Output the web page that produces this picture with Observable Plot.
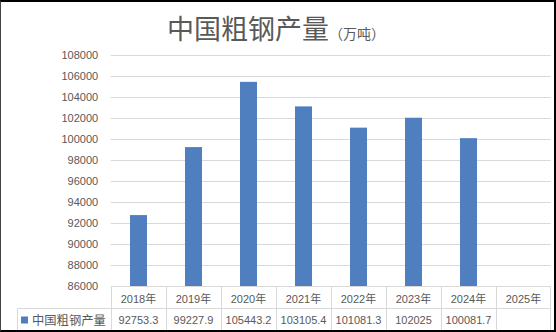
<!DOCTYPE html>
<html>
<head>
<meta charset="utf-8">
<script src="https://cdn.jsdelivr.net/npm/d3@7"></script>
<script src="https://cdn.jsdelivr.net/npm/@observablehq/plot@0.6"></script>
<style>
  html, body { margin: 0; padding: 0; background: #fff; }
  #wrap { position: relative; width: 556px; height: 332px; overflow: hidden; background: #fff; }
  #title { position: absolute; left: 0; top: 8px; width: 556px; text-align: center; color: #595959;
           font-family: "Noto Sans CJK SC", sans-serif; white-space: nowrap; padding-right: 4px; box-sizing: border-box; }
  #title .main { font-size: 27px; }
  #title .unit { font-size: 14px; }
  #chart { position: absolute; left: 0; top: 0; }
  #frame { position: absolute; left: 0; top: 0; width: 556px; height: 332px; box-sizing: border-box;
           border-top: 2px solid #000; border-left: 1px solid #444; border-right: 2px solid #000; border-bottom: 2px solid #000;
           pointer-events: none; }
</style>
</head>
<body>
<div id="wrap">
  <div id="chart"></div>
  <div id="title"><span class="main">中国粗钢产量</span><span class="unit">（万吨）</span></div>
  <div id="frame"></div>
</div>
<script>
const years = ["2018年", "2019年", "2020年", "2021年", "2022年", "2023年", "2024年", "2025年"];
const production = [92753.3, 99227.9, 105443.2, 103105.4, 101081.3, 102025, 100081.7, null];
const tableValues = ["92753.3", "99227.9", "105443.2", "103105.4", "101081.3", "102025", "100081.7", ""];
const yTicks = [86000, 88000, 90000, 92000, 94000, 96000, 98000, 100000, 102000, 104000, 106000, 108000];
const seriesName = "中国粗钢产量";

const barColor = "#4f7fbf";
const gridColor = "#d9d9d9";
const textColor = "#595959";
const font = "'Liberation Sans', 'Noto Sans CJK SC', sans-serif";

const data = years.map((year, i) => ({year, value: production[i]})).filter(d => d.value != null);

const chart = Plot.plot({
  width: 556,
  height: 332,
  marginTop: 55,
  marginBottom: 46,
  marginLeft: 110.7,
  marginRight: 5.3,
  style: {fontFamily: font, background: "transparent", color: textColor},
  x: {domain: years, paddingInner: 0.7, paddingOuter: 0.35, axis: null},
  y: {domain: [yTicks[0], yTicks[yTicks.length - 1]], axis: null},
  marks: [
    Plot.gridY(yTicks, {stroke: gridColor, strokeOpacity: 1}),
    Plot.axisY(yTicks, {tickSize: 0, tickPadding: 13, tickFormat: d => String(d), fontSize: 11, fill: textColor, label: null}),
    Plot.barY(data, {x: "year", y1: yTicks[0], y2: "value", fill: barColor})
  ]
});
document.getElementById("chart").appendChild(chart);

// Data table drawn beneath the plot using Plot's own scales
const xs = chart.scale("x");
const ys = chart.scale("y");
const svg = d3.select(chart);
const gap = (xs.step - xs.bandwidth) / 2;
const colLeft = v => xs.apply(v) - gap;
const colCenter = v => xs.apply(v) + xs.bandwidth / 2;
const top0 = ys.apply(yTicks[0]) + 0.5;
const rowH = 22;
const tableRight = colLeft(years[years.length - 1]) + xs.step;
const labelLeft = 17.5;

const g = svg.append("g").attr("stroke", gridColor).attr("stroke-width", 1);
g.append("line").attr("x1", labelLeft).attr("x2", tableRight).attr("y1", top0 + rowH).attr("y2", top0 + rowH);
g.append("line").attr("x1", labelLeft).attr("x2", tableRight).attr("y1", top0 + 2 * rowH + 0.5).attr("y2", top0 + 2 * rowH + 0.5);
g.append("line").attr("x1", labelLeft).attr("x2", labelLeft).attr("y1", top0 + rowH).attr("y2", top0 + 2 * rowH + 0.5);
years.forEach(v => {
  const xl = Math.round(colLeft(v)) + 0.5;
  g.append("line").attr("x1", xl).attr("x2", xl).attr("y1", top0).attr("y2", top0 + 2 * rowH + 0.5);
});
g.append("line").attr("x1", Math.round(tableRight) - 0.5).attr("x2", Math.round(tableRight) - 0.5)
  .attr("y1", top0).attr("y2", top0 + 2 * rowH + 0.5);

const t = svg.append("g").attr("fill", textColor).attr("font-size", 11).attr("font-family", font)
  .attr("text-anchor", "middle").attr("dominant-baseline", "central");
years.forEach((v, i) => {
  t.append("text").attr("x", colCenter(v)).attr("y", top0 + rowH / 2 + 1).text(v);
  t.append("text").attr("x", colCenter(v)).attr("y", top0 + rowH * 1.5 + 0.5).text(tableValues[i]);
});
svg.append("rect").attr("x", 21).attr("y", top0 + rowH * 1.5 - 3).attr("width", 7).attr("height", 7).attr("fill", barColor);
svg.append("text").attr("x", 32).attr("y", top0 + rowH * 1.5 + 0.5).attr("dominant-baseline", "central")
  .attr("text-anchor", "start")
  .attr("fill", textColor).attr("font-size", 12.3).attr("font-family", "'Noto Sans CJK SC', sans-serif").text(seriesName);
</script>
</body>
</html>
